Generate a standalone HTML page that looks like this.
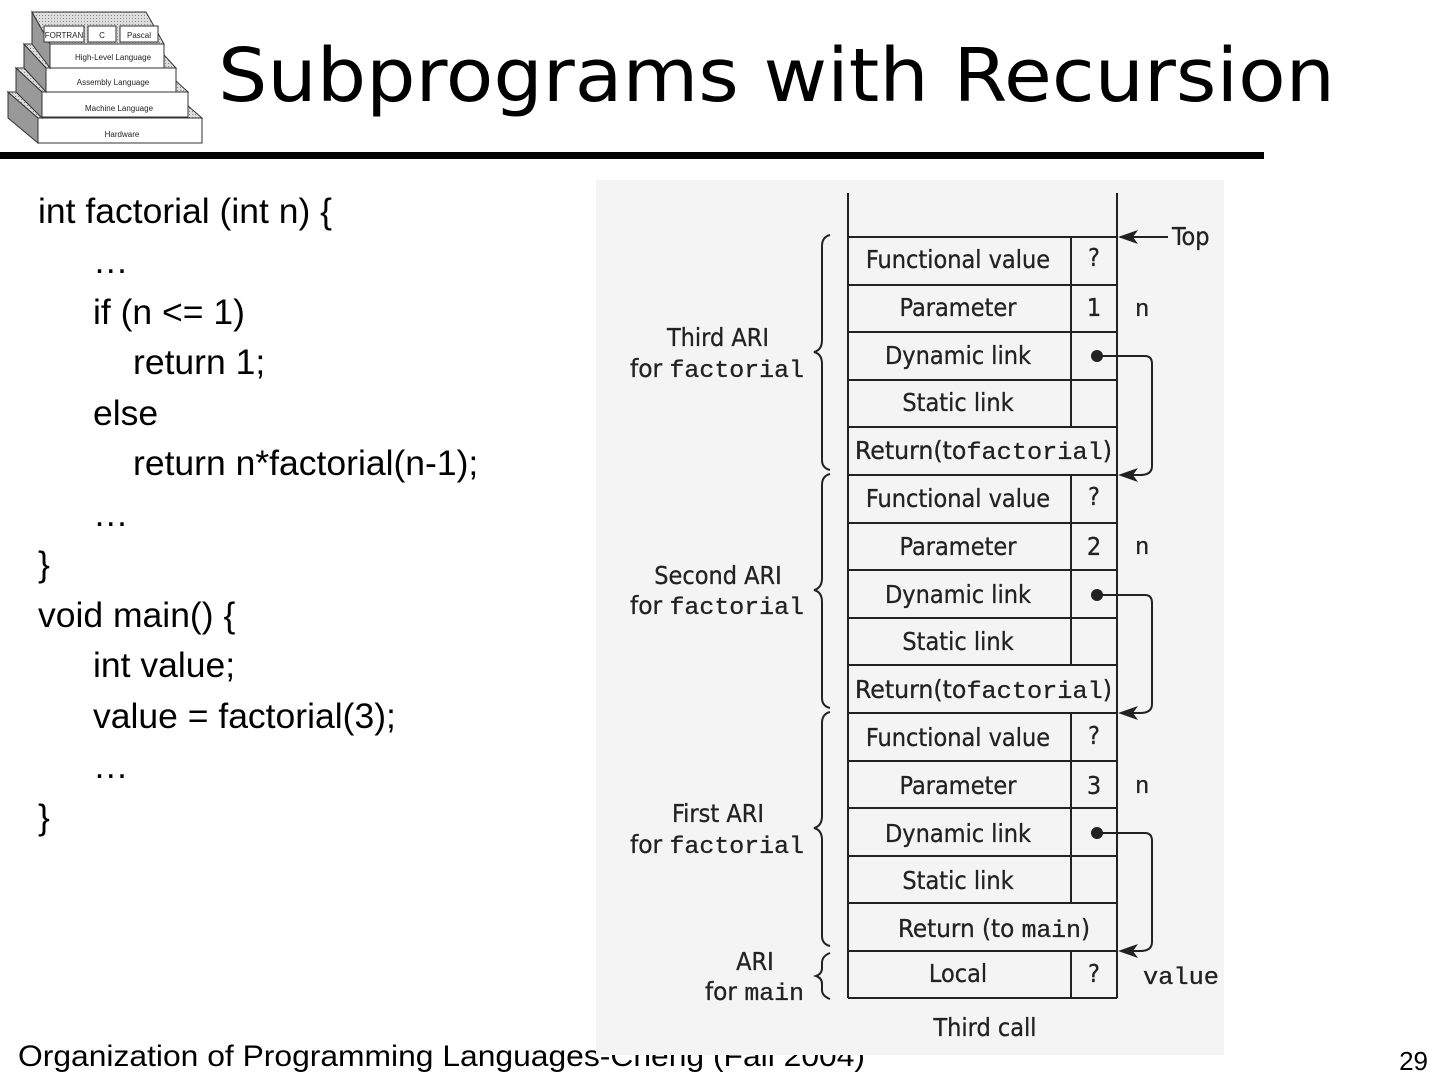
<!DOCTYPE html>
<html><head><meta charset="utf-8"><style>
html,body{margin:0;padding:0;background:#fff;width:1440px;height:1080px;overflow:hidden}
</style></head><body>
<svg width="1440" height="1080" viewBox="0 0 1440 1080" xmlns="http://www.w3.org/2000/svg">
<defs><pattern id="dots" width="3" height="3" patternUnits="userSpaceOnUse"><rect width="3" height="3" fill="#ddd"/><rect width="1" height="1" fill="#888"/></pattern></defs>
<g stroke="#333" stroke-width="1">
<polygon points="8,92 38,118 38,143 8,118" fill="#999"/>
<rect x="38" y="118" width="164" height="25" fill="#fff"/>
<polygon points="8,92 172,92 202,118 38,118" fill="url(#dots)"/>
<polygon points="16,68 42,92 42,118 16,92" fill="#999"/>
<rect x="42" y="92" width="146" height="25" fill="#fff"/>
<polygon points="16,68 162,68 188,92 42,92" fill="url(#dots)"/>
<polygon points="24,44 46,68 46,92 24,68" fill="#999"/>
<rect x="46" y="68" width="130" height="24" fill="#fff"/>
<polygon points="24,44 154,44 176,68 46,68" fill="url(#dots)"/>
<polygon points="32,12 50,44 50,68 32,44" fill="#999"/>
<rect x="50" y="44" width="114" height="24" fill="#fff"/>
<polygon points="32,12 146,12 164,44 50,44" fill="url(#dots)"/>
<rect x="44" y="26" width="40" height="16" fill="#fff"/>
<rect x="88" y="26" width="28" height="16" fill="#fff"/>
<rect x="120" y="26" width="38" height="16" fill="#fff"/>
</g>
<g font-family="Liberation Sans,sans-serif" font-size="8" fill="#222" text-anchor="middle">
<text x="64" y="38">FORTRAN</text><text x="102" y="38">C</text><text x="139" y="38">Pascal</text>
<text x="113" y="60">High-Level Language</text><text x="113" y="85">Assembly Language</text>
<text x="119" y="111">Machine Language</text><text x="122" y="137">Hardware</text>
</g>
<text x="218" y="101" font-family="DejaVu Sans,sans-serif" font-size="74" fill="#000" textLength="1117" lengthAdjust="spacingAndGlyphs">Subprograms with Recursion</text>
<rect x="0" y="152" width="1264" height="7" fill="#000"/>
<g font-family="Liberation Sans,sans-serif" font-size="35.5" fill="#000">
<text x="38" y="223">int factorial (int n) {</text>
<text x="93" y="273">…</text>
<text x="93" y="324">if (n &lt;= 1)</text>
<text x="133" y="374">return 1;</text>
<text x="93" y="425">else</text>
<text x="133" y="475">return n*factorial(n-1);</text>
<text x="93" y="526">…</text>
<text x="38" y="576">}</text>
<text x="38" y="627">void main() {</text>
<text x="93" y="677">int value;</text>
<text x="93" y="728">value = factorial(3);</text>
<text x="93" y="778">…</text>
<text x="38" y="829">}</text>
</g>
<text x="18" y="1066" font-family="Liberation Sans,sans-serif" font-size="30" fill="#000" textLength="847" lengthAdjust="spacingAndGlyphs">Organization of Programming Languages-Cheng (Fall 2004)</text>
<text x="1428" y="1070" text-anchor="end" font-family="Liberation Sans,sans-serif" font-size="26" fill="#000">29</text>
<rect x="596" y="180" width="628" height="875" fill="#f4f4f4"/>
<g stroke="#222" stroke-width="2" fill="none">
<line x1="848" y1="193" x2="848" y2="998"/>
<line x1="1117" y1="193" x2="1117" y2="998"/>
<path d="M848 237H1117M848 285H1117M848 332H1117M848 380H1117M848 427H1117M848 475H1117M848 523H1117M848 570H1117M848 618H1117M848 665H1117M848 713H1117M848 761H1117M848 808H1117M848 856H1117M848 903H1117M848 951H1117M848 998H1117"/>
<path d="M1071 237V427M1071 475V665M1071 713V903M1071 951V998"/>
<path d="M830 235Q822 237 822 246V340Q822 350 814 352Q822 354 822 364V460Q822 468 830 470"/>
<path d="M830 474Q822 476 822 485V578Q822 588 814 590Q822 592 822 602V698Q822 706 830 708"/>
<path d="M830 712Q822 714 822 723V816Q822 826 814 828Q822 830 822 840V936Q822 944 830 946"/>
<path d="M830 953Q822 956 822 963V968Q822 974 816 976Q822 978 822 984V990Q822 996 830 999"/>
<line x1="1120" y1="237" x2="1168" y2="237"/>
<path d="M1097 356H1145Q1152 356 1152 364V466Q1152 475 1140 475H1122"/>
<path d="M1097 595H1145Q1152 595 1152 603V704Q1152 713 1140 713H1122"/>
<path d="M1097 833H1145Q1152 833 1152 841V942Q1152 951 1140 951H1122"/>
</g>
<g fill="#222">
<polygon points="1118,237 1138,230 1133,237 1138,244"/>
<polygon points="1118,475 1138,468 1133,475 1138,482"/>
<polygon points="1118,713 1138,706 1133,713 1138,720"/>
<polygon points="1118,951 1138,944 1133,951 1138,958"/>
<circle cx="1097" cy="356" r="6"/><circle cx="1097" cy="595" r="6"/><circle cx="1097" cy="833" r="6"/>
</g>
<g font-family="DejaVu Sans Condensed,Liberation Sans,sans-serif" font-size="25" fill="#222" text-anchor="middle" stroke="#222" stroke-width="0.3">
<text x="958" y="268">Functional value</text><text x="958" y="316">Parameter</text><text x="958" y="364">Dynamic link</text><text x="958" y="411">Static link</text>
<text x="958" y="507">Functional value</text><text x="958" y="555">Parameter</text><text x="958" y="603">Dynamic link</text><text x="958" y="650">Static link</text>
<text x="958" y="746">Functional value</text><text x="958" y="794">Parameter</text><text x="958" y="842">Dynamic link</text><text x="958" y="889">Static link</text>
<text x="958" y="982">Local</text>
<text x="1094" y="266">?</text><text x="1094" y="316">1</text>
<text x="1094" y="505">?</text><text x="1094" y="555">2</text>
<text x="1094" y="744">?</text><text x="1094" y="794">3</text>
<text x="1094" y="982">?</text>
<text x="718" y="346">Third ARI</text><text x="718" y="584">Second ARI</text><text x="718" y="822">First ARI</text>
<text x="755" y="970">ARI</text>
<text x="985" y="1036">Third call</text>
</g>
<g font-family="DejaVu Sans Condensed,Liberation Sans,sans-serif" font-size="25" fill="#222" stroke="#222" stroke-width="0.3">
<text x="855" y="459" textLength="257" lengthAdjust="spacingAndGlyphs">Return(to<tspan font-family="Liberation Mono,monospace" font-size="24">factorial</tspan>)</text>
<text x="855" y="698" textLength="257" lengthAdjust="spacingAndGlyphs">Return(to<tspan font-family="Liberation Mono,monospace" font-size="24">factorial</tspan>)</text>
<text x="898" y="937" textLength="192" lengthAdjust="spacingAndGlyphs">Return (to <tspan font-family="Liberation Mono,monospace" font-size="24">main</tspan>)</text>
<text x="630" y="377" textLength="174" lengthAdjust="spacingAndGlyphs">for <tspan font-family="Liberation Mono,monospace" font-size="24">factorial</tspan></text>
<text x="630" y="614" textLength="174" lengthAdjust="spacingAndGlyphs">for <tspan font-family="Liberation Mono,monospace" font-size="24">factorial</tspan></text>
<text x="630" y="853" textLength="174" lengthAdjust="spacingAndGlyphs">for <tspan font-family="Liberation Mono,monospace" font-size="24">factorial</tspan></text>
<text x="705" y="1000" textLength="99" lengthAdjust="spacingAndGlyphs">for <tspan font-family="Liberation Mono,monospace" font-size="24">main</tspan></text>
<text x="1172" y="245">Top</text>
</g>
<g font-family="Liberation Mono,monospace" font-size="24" fill="#222" stroke="#222" stroke-width="0.3">
<text x="1135" y="316">n</text><text x="1135" y="554">n</text><text x="1135" y="793">n</text>
<text x="1143" y="984" textLength="76" lengthAdjust="spacingAndGlyphs">value</text>
</g>
</svg>
</body></html>
